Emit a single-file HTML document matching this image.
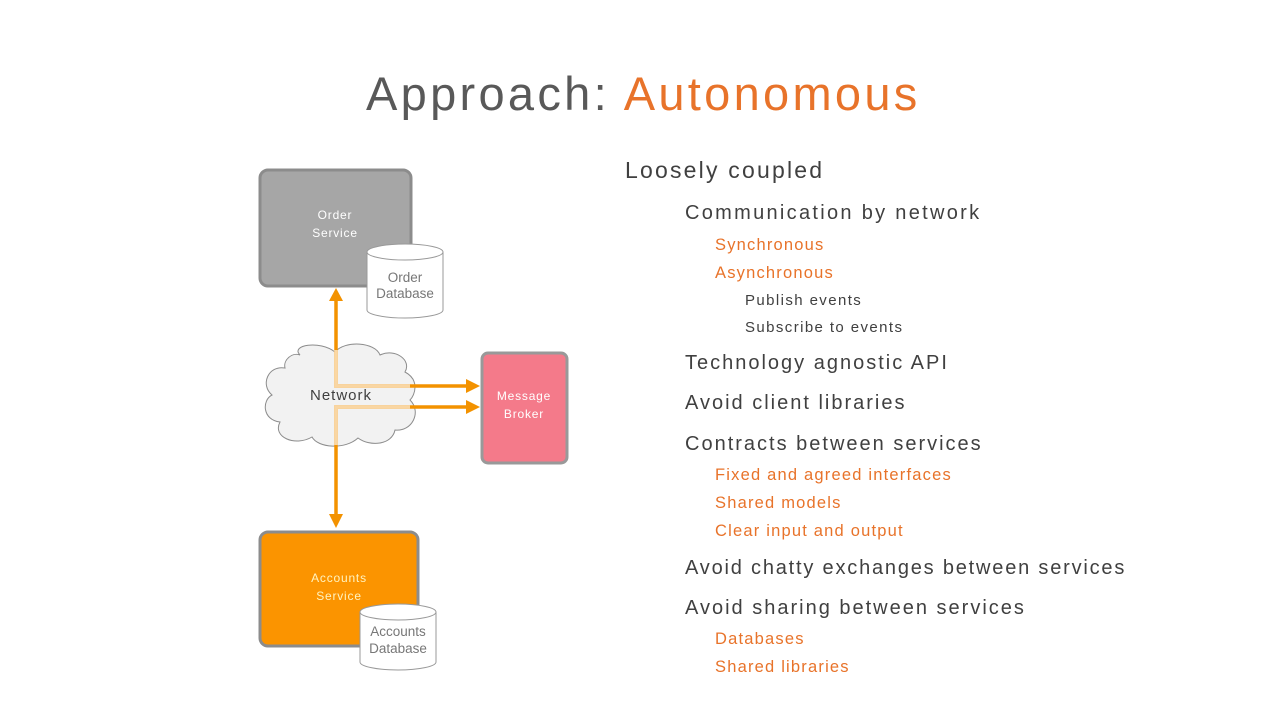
<!DOCTYPE html>
<html><head><meta charset="utf-8"><style>
body{margin:0;width:1280px;height:720px;background:#fff;overflow:hidden;font-family:"Liberation Sans",sans-serif;}
.t{position:absolute;white-space:nowrap;}
.l2{font-size:20px;color:#404040;letter-spacing:2px}
.l3{font-size:16.5px;color:#e8732a;letter-spacing:1.2px}
.l4{font-size:15px;color:#404040;letter-spacing:1.4px}
</style></head><body>
<div class="t" style="left:366px;top:66px;font-size:47px;color:#595959;letter-spacing:3.3px">Approach: <span style="color:#e8732a">Autonomous</span></div>
<div class="t" style="left:625px;top:157px;font-size:23px;color:#404040;letter-spacing:2.2px">Loosely coupled</div>
<div class="t l2" style="left:685px;top:202px;letter-spacing:2.3px">Communication by network</div>
<div class="t l3" style="left:715px;top:236px">Synchronous</div>
<div class="t l3" style="left:715px;top:264px">Asynchronous</div>
<div class="t l4" style="left:745px;top:292px">Publish events</div>
<div class="t l4" style="left:745px;top:319px">Subscribe to events</div>
<div class="t l2" style="left:685px;top:352px">Technology agnostic API</div>
<div class="t l2" style="left:685px;top:392px">Avoid client libraries</div>
<div class="t l2" style="left:685px;top:433px">Contracts between services</div>
<div class="t l3" style="left:715px;top:466px">Fixed and agreed interfaces</div>
<div class="t l3" style="left:715px;top:494px">Shared models</div>
<div class="t l3" style="left:715px;top:522px">Clear input and output</div>
<div class="t l2" style="left:685px;top:557px;letter-spacing:1.8px">Avoid chatty exchanges between services</div>
<div class="t l2" style="left:685px;top:597px">Avoid sharing between services</div>
<div class="t l3" style="left:715px;top:630px">Databases</div>
<div class="t l3" style="left:715px;top:658px">Shared libraries</div>

<svg width="1280" height="720" style="position:absolute;left:0;top:0" font-family="Liberation Sans, sans-serif">
<rect x="260" y="170" width="151" height="116" rx="8" fill="#a6a6a6" stroke="#8c8c8c" stroke-width="3"/>
<text x="335" y="219" font-size="12" fill="#fff" text-anchor="middle" letter-spacing="0.8">Order</text>
<text x="335" y="237" font-size="12" fill="#fff" text-anchor="middle" letter-spacing="0.8">Service</text>
<path d="M367 252 L367 310 A38 8 0 0 0 443 310 L443 252" fill="#fff" stroke="#999"/>
<ellipse cx="405" cy="252" rx="38" ry="8" fill="#fff" stroke="#999"/>
<text x="405" y="282" font-size="13.5" fill="#777" text-anchor="middle">Order</text>
<text x="405" y="298" font-size="13.5" fill="#777" text-anchor="middle">Database</text>

<path d="M300 355 C290 345 320 340 335 352 C345 340 375 342 380 355 C395 348 412 360 405 372 C420 380 415 395 410 400 C422 412 412 432 395 430 C392 445 370 447 358 438 C345 450 318 448 312 437 C295 447 272 437 280 422 C262 420 262 400 272 395 C260 385 268 365 285 368 C283 360 292 352 300 355Z" fill="#f2f2f2" stroke="#8c8c8c"/>
<text x="341" y="400" font-size="15" fill="#404040" text-anchor="middle" letter-spacing="1">Network</text>

<g stroke="#f39200" stroke-width="3.5" fill="none">
<path d="M336 298 V386 H468" />
<path d="M468 407 H336 V518" />
</g>
<g stroke="#fbe3c0" stroke-width="3.5" fill="none" opacity="0.85">
<path d="M336 350 V386 H410"/>
<path d="M410 407 H336 V445"/>
</g>
<g fill="#f39200">
<polygon points="336,288 329,301 343,301"/>
<polygon points="480,386 466,379 466,393"/>
<polygon points="480,407 466,400 466,414"/>
<polygon points="336,528 329,514 343,514"/>
</g>

<rect x="482" y="353" width="85" height="110" rx="6" fill="#f47a8a" stroke="#999" stroke-width="3"/>
<text x="524" y="400" font-size="12" fill="#fff" text-anchor="middle" letter-spacing="0.8">Message</text>
<text x="524" y="418" font-size="12" fill="#fff" text-anchor="middle" letter-spacing="0.8">Broker</text>

<rect x="260" y="532" width="158" height="114" rx="8" fill="#fb9400" stroke="#8c8c8c" stroke-width="3"/>
<text x="339" y="582" font-size="12" fill="#fff3c0" text-anchor="middle" letter-spacing="0.8">Accounts</text>
<text x="339" y="600" font-size="12" fill="#fff3c0" text-anchor="middle" letter-spacing="0.8">Service</text>
<path d="M360 612 L360 662 A38 8 0 0 0 436 662 L436 612" fill="#fff" stroke="#999"/>
<ellipse cx="398" cy="612" rx="38" ry="8" fill="#fff" stroke="#999"/>
<text x="398" y="636" font-size="13.5" fill="#777" text-anchor="middle">Accounts</text>
<text x="398" y="653" font-size="13.5" fill="#777" text-anchor="middle">Database</text>
</svg>
</body></html>
